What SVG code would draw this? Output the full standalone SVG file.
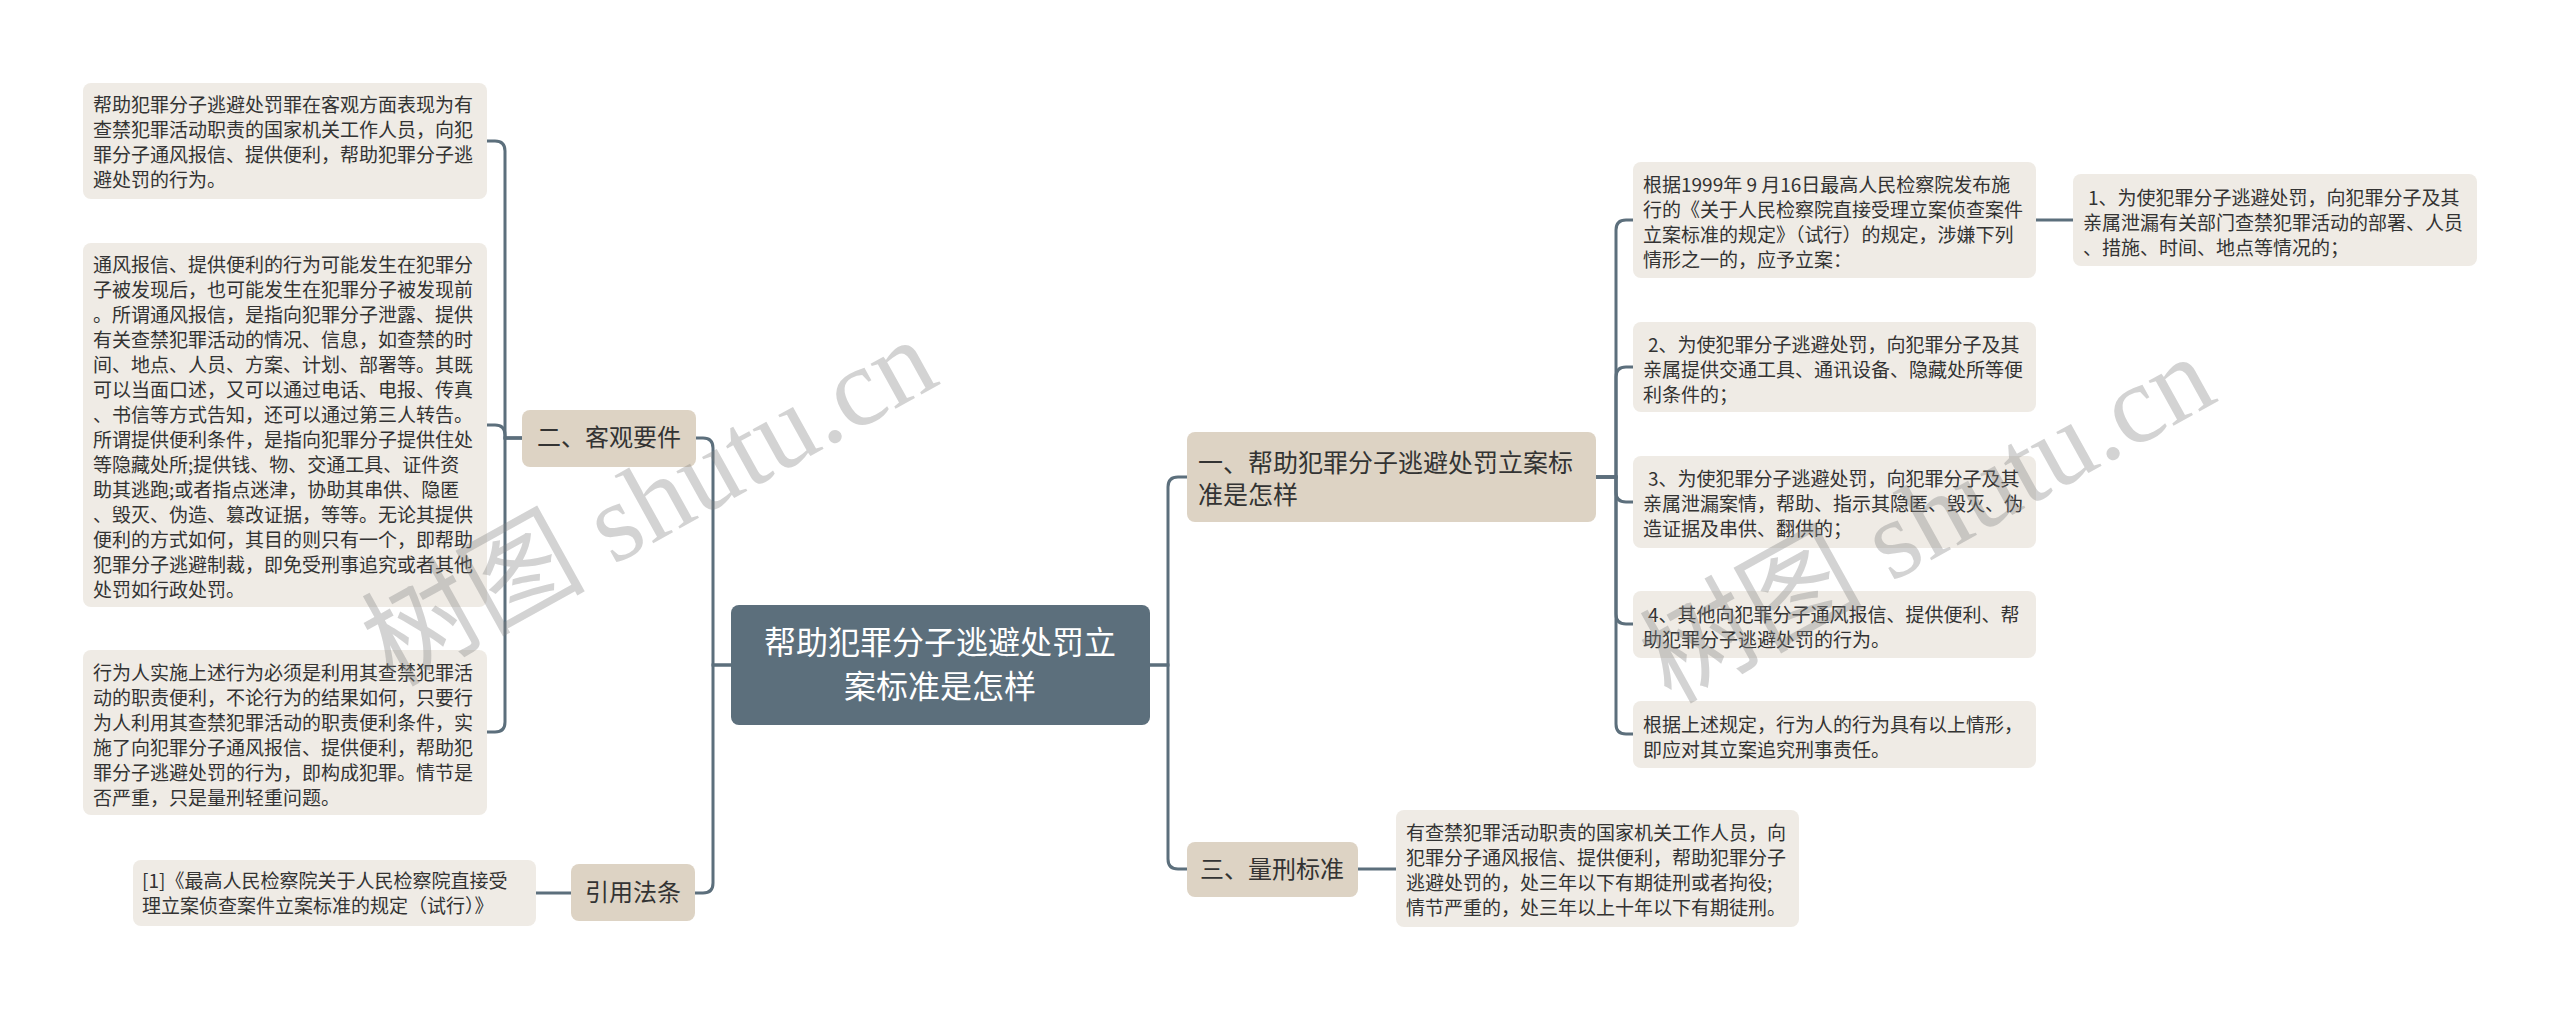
<svg xmlns="http://www.w3.org/2000/svg" width="2560" height="1011" viewBox="0 0 2560 1011">
<style>
.leaf{fill:#efebe5;}
.branch{fill:#ddd3c4;}
.center{fill:#5c6f7c;}
.lt{font-family:"Noto Sans CJK SC","Noto Sans",sans-serif;font-size:19px;fill:#333;}
.bt{font-family:"Noto Sans CJK SC","Noto Sans",sans-serif;font-size:24px;fill:#333;}
.ct{font-family:"Noto Sans CJK SC","Noto Sans",sans-serif;font-size:32px;fill:#fff;text-anchor:middle;}
.conn path{fill:none;stroke:#5c6f7c;stroke-width:3;}
.wm{font-family:"Liberation Serif","Noto Sans CJK SC",serif;font-size:112px;fill:#808080;fill-opacity:0.35;text-anchor:middle;}
</style>
<rect width="2560" height="1011" fill="#fff"/>

<g class="conn" id="connectors">
<path d="M522,438 H505 V151 Q505,141 495,141 H487"/>
<path d="M522,438 H505 V435 Q505,425 495,425 H487"/>
<path d="M522,438 H505 V722 Q505,732 495,732 H487"/>
<path d="M732,665 H713 V448 Q713,438 703,438 H696"/>
<path d="M732,665 H713 V883 Q713,893 703,893 H695"/>
<path d="M571,893 H536"/>
<path d="M1150,665 H1168 V487 Q1168,477 1178,477 H1187"/>
<path d="M1150,665 H1168 V859 Q1168,869 1178,869 H1187"/>
<path d="M1358,869 H1396"/>
<path d="M1596,477 H1616 V230 Q1616,220 1626,220 H1633"/>
<path d="M1596,477 H1616 V377 Q1616,367 1626,367 H1633"/>
<path d="M1596,477 H1616 V492 Q1616,502 1626,502 H1633"/>
<path d="M1596,477 H1616 V614 Q1616,624 1626,624 H1633"/>
<path d="M1596,477 H1616 V724 Q1616,734 1626,734 H1633"/>
<path d="M2036,220 H2073"/>
</g>

<g id="center">
<rect class="center" x="731" y="605" width="419" height="120" rx="8"/>
<text class="ct" x="940" y="654">帮助犯罪分子逃避处罚立</text>
<text class="ct" x="940" y="698">案标准是怎样</text>
</g>

<g id="n-keguan">
<rect class="branch" x="522" y="410" width="174" height="57" rx="8"/>
<text class="bt" x="609" y="446" text-anchor="middle">二、客观要件</text>
</g>

<g id="n-yinyong">
<rect class="branch" x="571" y="864" width="124" height="57" rx="8"/>
<text class="bt" x="633" y="901" text-anchor="middle">引用法条</text>
</g>

<g id="n-yi">
<rect class="branch" x="1187" y="432" width="409" height="90" rx="8"/>
<text class="bt" x="1198" y="472" style="font-size:25px">一、帮助犯罪分子逃避处罚立案标</text>
<text class="bt" x="1198" y="504" style="font-size:25px">准是怎样</text>
</g>

<g id="n-san">
<rect class="branch" x="1187" y="842" width="171" height="55" rx="8"/>
<text class="bt" x="1272" y="878" text-anchor="middle">三、量刑标准</text>
</g>

<g id="leaf-a">
<rect class="leaf" x="83" y="83" width="404" height="116" rx="8"/>
<text class="lt" x="93" y="112">帮助犯罪分子逃避处罚罪在客观方面表现为有</text>
<text class="lt" x="93" y="137">查禁犯罪活动职责的国家机关工作人员，向犯</text>
<text class="lt" x="93" y="162">罪分子通风报信、提供便利，帮助犯罪分子逃</text>
<text class="lt" x="93" y="187">避处罚的行为。</text>
</g>

<g id="leaf-b">
<rect class="leaf" x="83" y="243" width="404" height="364" rx="8"/>
<text class="lt" x="93" y="272">通风报信、提供便利的行为可能发生在犯罪分</text>
<text class="lt" x="93" y="297">子被发现后，也可能发生在犯罪分子被发现前</text>
<text class="lt" x="93" y="322">。所谓通风报信，是指向犯罪分子泄露、提供</text>
<text class="lt" x="93" y="347">有关查禁犯罪活动的情况、信息，如查禁的时</text>
<text class="lt" x="93" y="372">间、地点、人员、方案、计划、部署等。其既</text>
<text class="lt" x="93" y="397">可以当面口述，又可以通过电话、电报、传真</text>
<text class="lt" x="93" y="422">、书信等方式告知，还可以通过第三人转告。</text>
<text class="lt" x="93" y="447">所谓提供便利条件，是指向犯罪分子提供住处</text>
<text class="lt" x="93" y="472">等隐藏处所;提供钱、物、交通工具、证件资</text>
<text class="lt" x="93" y="497">助其逃跑;或者指点迷津，协助其串供、隐匿</text>
<text class="lt" x="93" y="522">、毁灭、伪造、篡改证据，等等。无论其提供</text>
<text class="lt" x="93" y="547">便利的方式如何，其目的则只有一个，即帮助</text>
<text class="lt" x="93" y="572">犯罪分子逃避制裁，即免受刑事追究或者其他</text>
<text class="lt" x="93" y="597">处罚如行政处罚。</text>
</g>

<g id="leaf-c">
<rect class="leaf" x="83" y="650" width="404" height="165" rx="8"/>
<text class="lt" x="93" y="680">行为人实施上述行为必须是利用其查禁犯罪活</text>
<text class="lt" x="93" y="705">动的职责便利，不论行为的结果如何，只要行</text>
<text class="lt" x="93" y="730">为人利用其查禁犯罪活动的职责便利条件，实</text>
<text class="lt" x="93" y="755">施了向犯罪分子通风报信、提供便利，帮助犯</text>
<text class="lt" x="93" y="780">罪分子逃避处罚的行为，即构成犯罪。情节是</text>
<text class="lt" x="93" y="805">否严重，只是量刑轻重问题。</text>
</g>

<g id="leaf-law">
<rect class="leaf" x="133" y="860" width="403" height="66" rx="8"/>
<text class="lt" x="142" y="888">[1]《最高人民检察院关于人民检察院直接受</text>
<text class="lt" x="142" y="913">理立案侦查案件立案标准的规定（试行）》</text>
</g>

<g id="leaf-r1">
<rect class="leaf" x="1633" y="162" width="403" height="116" rx="8"/>
<text class="lt" x="1643" y="192">根据1999年 9 月16日最高人民检察院发布施</text>
<text class="lt" x="1643" y="217">行的《关于人民检察院直接受理立案侦查案件</text>
<text class="lt" x="1643" y="242">立案标准的规定》（试行）的规定，涉嫌下列</text>
<text class="lt" x="1643" y="267">情形之一的，应予立案：</text>
</g>

<g id="leaf-r1a">
<rect class="leaf" x="2073" y="174" width="404" height="92" rx="8"/>
<text class="lt" x="2088" y="205">1、为使犯罪分子逃避处罚，向犯罪分子及其</text>
<text class="lt" x="2083" y="230">亲属泄漏有关部门查禁犯罪活动的部署、人员</text>
<text class="lt" x="2083" y="255">、措施、时间、地点等情况的；</text>
</g>

<g id="leaf-r2">
<rect class="leaf" x="1633" y="322" width="403" height="90" rx="8"/>
<text class="lt" x="1648" y="352">2、为使犯罪分子逃避处罚，向犯罪分子及其</text>
<text class="lt" x="1643" y="377">亲属提供交通工具、通讯设备、隐藏处所等便</text>
<text class="lt" x="1643" y="402">利条件的；</text>
</g>

<g id="leaf-r3">
<rect class="leaf" x="1633" y="456" width="403" height="92" rx="8"/>
<text class="lt" x="1648" y="486">3、为使犯罪分子逃避处罚，向犯罪分子及其</text>
<text class="lt" x="1643" y="511">亲属泄漏案情，帮助、指示其隐匿、毁灭、伪</text>
<text class="lt" x="1643" y="536">造证据及串供、翻供的；</text>
</g>

<g id="leaf-r4">
<rect class="leaf" x="1633" y="591" width="403" height="67" rx="8"/>
<text class="lt" x="1648" y="622">4、其他向犯罪分子通风报信、提供便利、帮</text>
<text class="lt" x="1643" y="647">助犯罪分子逃避处罚的行为。</text>
</g>

<g id="leaf-r5">
<rect class="leaf" x="1633" y="701" width="403" height="67" rx="8"/>
<text class="lt" x="1643" y="732">根据上述规定，行为人的行为具有以上情形，</text>
<text class="lt" x="1643" y="757">即应对其立案追究刑事责任。</text>
</g>

<g id="leaf-san">
<rect class="leaf" x="1396" y="810" width="403" height="117" rx="8"/>
<text class="lt" x="1406" y="840">有查禁犯罪活动职责的国家机关工作人员，向</text>
<text class="lt" x="1406" y="865">犯罪分子通风报信、提供便利，帮助犯罪分子</text>
<text class="lt" x="1406" y="890">逃避处罚的，处三年以下有期徒刑或者拘役;</text>
<text class="lt" x="1406" y="915">情节严重的，处三年以上十年以下有期徒刑。</text>
</g>

<g id="watermarks">
<text class="wm" transform="translate(649,502) rotate(-29)" x="0" y="38">树图 shutu.cn</text>
<text class="wm" transform="translate(1927,519) rotate(-29)" x="0" y="38">树图 shutu.cn</text>
</g>
</svg>
